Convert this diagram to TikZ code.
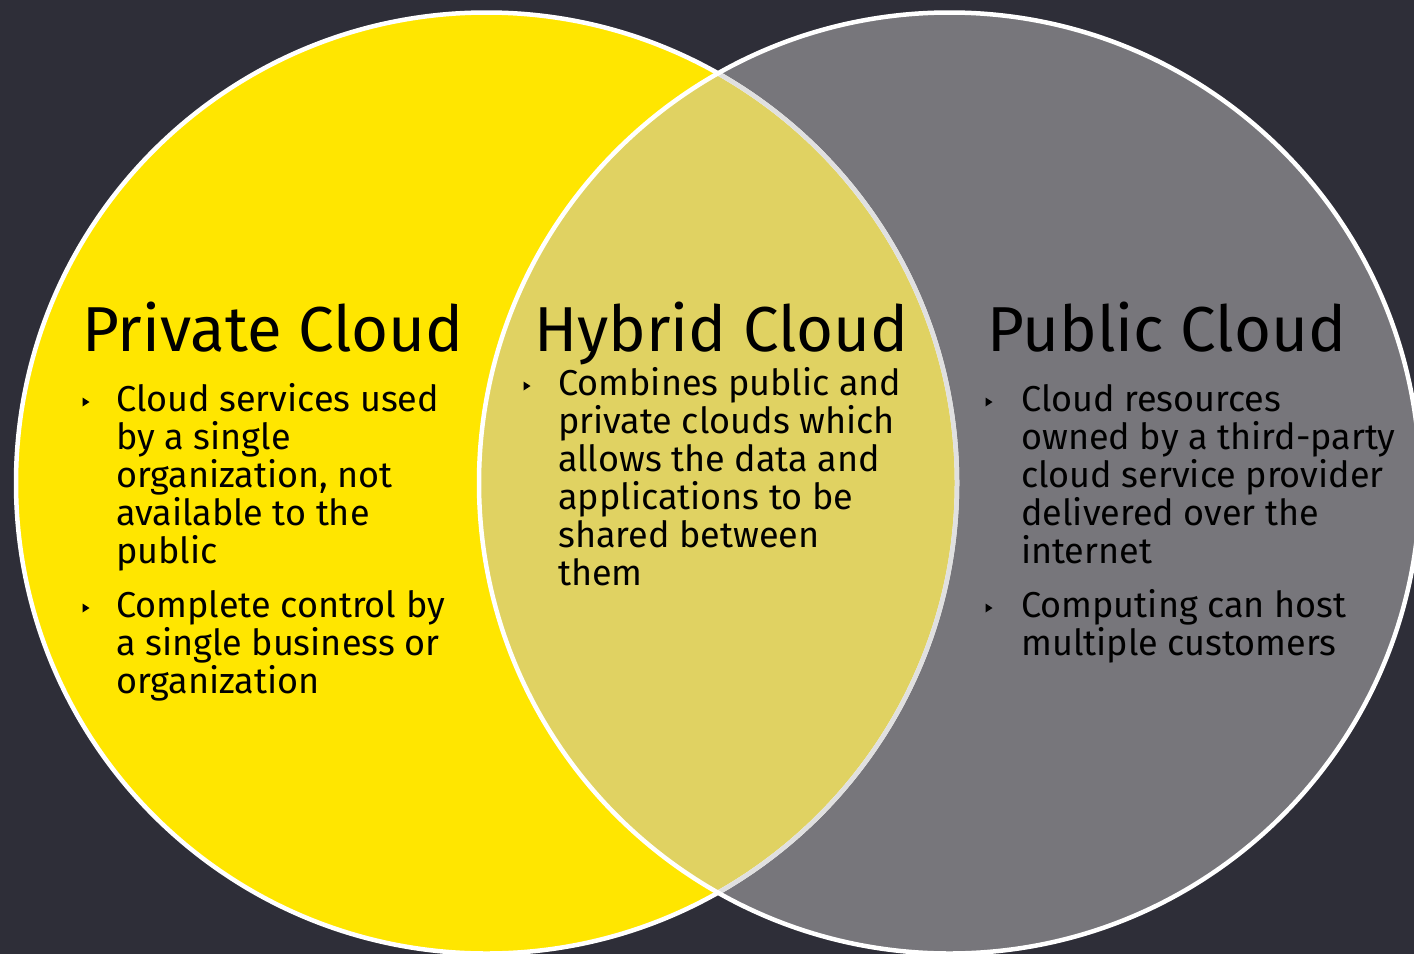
\documentclass[tikz,border=0pt]{standalone}
\usepackage{fontspec}
\setmainfont{Fira Sans}
\definecolor{bgdark}{HTML}{2E2E38}
\definecolor{eyyellow}{HTML}{FFE600}
\definecolor{eygray}{HTML}{77767B}
\definecolor{lensfill}{HTML}{E0D262}
\definecolor{lensedge}{HTML}{E0E0E0}
\begin{document}
\begin{tikzpicture}[x=1pt,y=-1pt,
  ring/.style={line width=4.5pt},
  % multi-line nodes are placed by the baseline of their last line
  heading/.style={anchor=base west, inner sep=0pt, text=black,
    font=\fontsize{63.5}{70}\selectfont},
  body/.style={anchor=base west, inner sep=0pt, align=left, text=black,
    font=\fontsize{36}{38}\selectfont},
  tri/.pic={\fill[black] (-3.5,-4.5) -- (3.5,0) -- (-3.5,4.5) -- cycle;}]

% canvas
\fill[bgdark] (0,0) rectangle (1414,954);
\useasboundingbox (0,0) rectangle (1414,954);

\coordinate (L) at (486.5,483);
\coordinate (R) at (949.5,483);

% discs
\fill[eyyellow] (L) circle[radius=470.5pt];
\fill[eygray] (R) circle[radius=470.5pt];
\begin{scope}
  \clip (R) circle[radius=470.5pt];
  \fill[lensfill] (L) circle[radius=470.5pt];
\end{scope}

% outlines
\draw[ring, white] (L) circle[radius=470.5pt];
\begin{scope}
  \clip (R) circle[radius=468.2pt];
  \draw[ring, lensedge] (L) circle[radius=470.5pt];
\end{scope}
\draw[ring, white] (R) circle[radius=470.5pt];

% private cloud
\node[heading] (privT) at (82,351) {Private Cloud};
\node[body] (privA) at (116,563) {Cloud services used\\by a single\\organization, not\\available to the\\public};
\node[body] (privB) at (116,693) {Complete control by\\a single business or\\organization};
\pic at (86,402) {tri};
\pic at (86,608) {tri};

% hybrid cloud
\node[heading] (hybT) at (534,351) {Hybrid Cloud};
\node[body] (hybA) at (558,585) {Combines public and\\private clouds which\\allows the data and\\applications to be\\shared between\\them};
\pic at (527,386) {tri};

% public cloud
\node[heading] (pubT) at (987,351) {Public Cloud};
\node[body] (pubA) at (1021,563) {Cloud resources\\owned by a third-party\\cloud service provider\\delivered over the\\internet};
\node[body] (pubB) at (1021,655) {Computing can host\\multiple customers};
\pic at (989,402) {tri};
\pic at (989,608) {tri};
\end{tikzpicture}
\end{document}
